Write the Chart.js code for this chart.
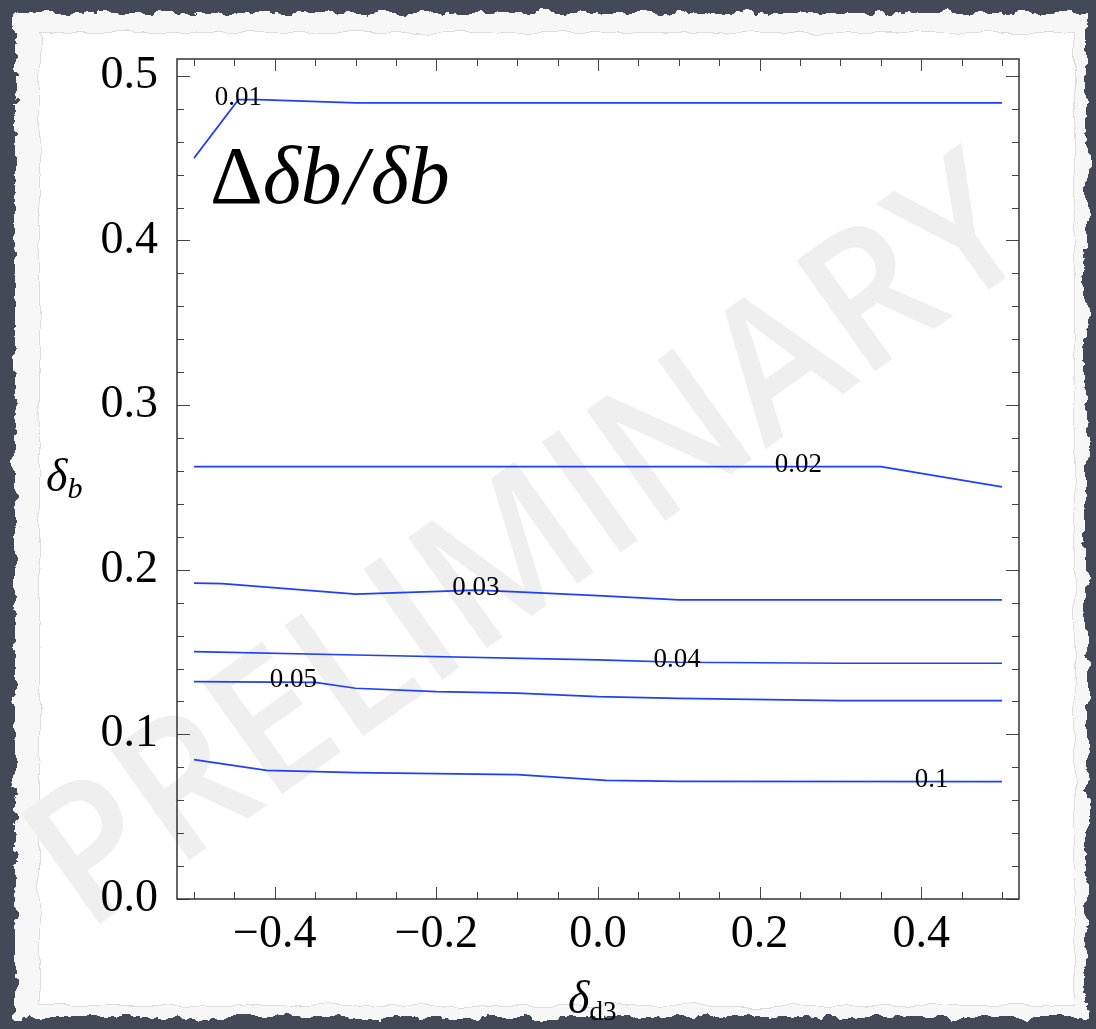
<!DOCTYPE html>
<html>
<head>
<meta charset="utf-8">
<script src="https://cdn.jsdelivr.net/npm/chart.js@4.4.1/dist/chart.umd.min.js"></script>
<style>
html,body{margin:0;padding:0;background:#434956;}
#wrap{position:relative;width:1096px;height:1029px;overflow:hidden;background:#434956;}
.paper{position:absolute;left:15px;top:13px;width:1072px;height:1004px;background:#f7f7f7;filter:url(#torn);}
.inner{position:absolute;left:40px;top:33px;width:1034px;height:972px;background:#fff;box-shadow:0 0 0 1px #dedede;filter:url(#torn2);}
.wm{position:absolute;left:521px;top:534px;transform:translate(-50%,-50%) rotate(-35.5deg) scaleX(0.94);
  font-family:"Open Sans";font-weight:600;font-size:190px;color:#efefef;white-space:nowrap;line-height:1;}
#c{position:absolute;left:0;top:0;}
.lbl{position:absolute;font-family:"Liberation Serif";color:#000;white-space:nowrap;line-height:1;}
.it{font-style:italic;}
</style>
</head>
<body>
<svg width="0" height="0" style="position:absolute">
  <filter id="torn" x="-3%" y="-3%" width="106%" height="106%">
    <feTurbulence type="fractalNoise" baseFrequency="0.05" numOctaves="4" seed="4" result="n"/>
    <feDisplacementMap in="SourceGraphic" in2="n" scale="16" xChannelSelector="R" yChannelSelector="G"/>
  </filter>
  <filter id="torn2" x="-3%" y="-3%" width="106%" height="106%">
    <feTurbulence type="fractalNoise" baseFrequency="0.03" numOctaves="3" seed="9" result="n"/>
    <feDisplacementMap in="SourceGraphic" in2="n" scale="10" xChannelSelector="R" yChannelSelector="G"/>
  </filter>
</svg>
<div id="wrap">
  <div class="paper"></div>
  <div class="inner"></div>
  <div class="wm">PRELIMINARY</div>
  <canvas id="c" width="1096" height="1029"></canvas>
  <div class="lbl" style="left:210px;top:135px;font-size:82px;">&Delta;<span class="it">&delta;b<span style="margin:0 3px;">/</span>&delta;b</span></div>
  <div class="lbl it" style="left:46px;top:453px;font-size:46px;">&delta;<span style="font-size:30px;vertical-align:-7px;">b</span></div>
  <div class="lbl" style="left:568px;top:975px;font-size:46px;"><span class="it">&delta;</span><span style="font-size:27px;vertical-align:-7px;">d3</span></div>
</div>
<script>
// contour levels and their traced points (delta_d3, delta_b)
const levels=["0.01","0.02","0.03","0.04","0.05","0.1"];

const x001=[-0.5,-0.445,-0.42,-0.3,0.5];
const y001=[0.450,0.4855,0.4855,0.4836,0.4836];

const x002=[-0.5,0.35,0.5];
const y002=[0.2626,0.2626,0.2503];

const x003=[-0.5,-0.465,-0.3,-0.15,-0.1,0.0,0.1,0.5];
const y003=[0.1918,0.1916,0.1852,0.1876,0.1866,0.1843,0.1817,0.1817];

const x004=[-0.5,-0.3,0.0,0.1,0.3,0.5];
const y004=[0.1502,0.1482,0.1452,0.1438,0.1432,0.1432];

const x005=[-0.5,-0.35,-0.3,-0.2,-0.1,0.0,0.1,0.3,0.5];
const y005=[0.1320,0.1316,0.1280,0.1259,0.1250,0.1229,0.1219,0.1205,0.1205];

const x01=[-0.5,-0.41,-0.3,-0.1,0.01,0.1,0.5];
const y01=[0.0846,0.0781,0.0768,0.0756,0.0721,0.0715,0.0713];

// where each contour label sits along its line (delta_d3)
const labelAtX=[-0.445,0.248,-0.151,0.098,-0.377,0.413];

const xTicks=[-0.4,-0.2,0.0,0.2,0.4];
const yTicks=[0.0,0.1,0.2,0.3,0.4,0.5];

const xs=[x001,x002,x003,x004,x005,x01];
const ys=[y001,y002,y003,y004,y005,y01];

let datasets=levels.map((lv,i)=>({
  label:lv,
  data:xs[i].map((x,j)=>({x:x,y:ys[i][j]})),
  borderColor:"#1f3fff",
  borderWidth:1.7,
  pointRadius:0,
  tension:0,
  fill:false
}));

function fmt(v){
  let s=Math.abs(v).toFixed(1);
  return v<-1e-9 ? "\u2212"+s : s;
}

const frame={
  id:"frame",
  afterDatasetsDraw(chart){
    const ctx=chart.ctx, a=chart.chartArea;
    const sx=chart.scales.x, sy=chart.scales.y;
    ctx.save();
    // contour labels
    ctx.font="27px 'Liberation Serif'";
    ctx.fillStyle="#000";
    ctx.textAlign="center";
    ctx.textBaseline="middle";
    levels.forEach((lv,i)=>{
      let X=xs[i], Y=ys[i], lx=labelAtX[i], ly=Y[0];
      for(let j=0;j<X.length-1;j++){
        if(lx>=X[j]&&lx<=X[j+1]){
          ly=Y[j]+(Y[j+1]-Y[j])*(lx-X[j])/(X[j+1]-X[j]);
        }
      }
      ctx.fillText(lv,sx.getPixelForValue(lx),sy.getPixelForValue(ly)-2);
    });
    // inward frame ticks
    ctx.strokeStyle="#444";
    ctx.lineWidth=1;
    ctx.beginPath();
    for(let k=0;k<=20;k++){
      let v=-0.5+k*0.05;
      let px=Math.round(sx.getPixelForValue(v))+0.5;
      let len=(k%4==2)?12:7;
      ctx.moveTo(px,a.bottom);ctx.lineTo(px,a.bottom-len);
      ctx.moveTo(px,a.top);ctx.lineTo(px,a.top+len);
    }
    for(let k=0;k<=25;k++){
      let v=k*0.02;
      let py=Math.round(sy.getPixelForValue(v))+0.5;
      let len=(k%5==0)?13:7;
      ctx.moveTo(a.left,py);ctx.lineTo(a.left+len,py);
      ctx.moveTo(a.right,py);ctx.lineTo(a.right-len,py);
    }
    ctx.stroke();
    ctx.strokeStyle="#333";
    ctx.lineWidth=1.5;
    ctx.strokeRect(a.left,a.top,a.right-a.left,a.bottom-a.top);
    ctx.restore();
  }
};

new Chart(document.getElementById("c"),{
  type:"line",
  data:{datasets},
  plugins:[frame],
  options:{
    responsive:false,
    animation:false,
    layout:{padding:{top:59,right:77,left:0,bottom:0}},
    plugins:{legend:{display:false},tooltip:{enabled:false}},
    scales:{
      x:{
        type:"linear",min:-0.521,max:0.521,
        grid:{display:false},border:{display:false},
        afterBuildTicks:s=>{s.ticks=xTicks.map(v=>({value:v}));},
        afterFit:s=>{s.height=130;},
        ticks:{color:"#000",font:{family:"Liberation Serif",size:46},padding:0,maxRotation:0,callback:v=>fmt(v)}
      },
      y:{
        type:"linear",min:0,max:0.5102,
        grid:{display:false},border:{display:false},
        afterBuildTicks:s=>{s.ticks=yTicks.map(v=>({value:v}));},
        afterFit:s=>{s.width=177;},
        ticks:{color:"#000",font:{family:"Liberation Serif",size:46},padding:11,callback:v=>fmt(v)}
      }
    }
  }
});
</script>
</body>
</html>
